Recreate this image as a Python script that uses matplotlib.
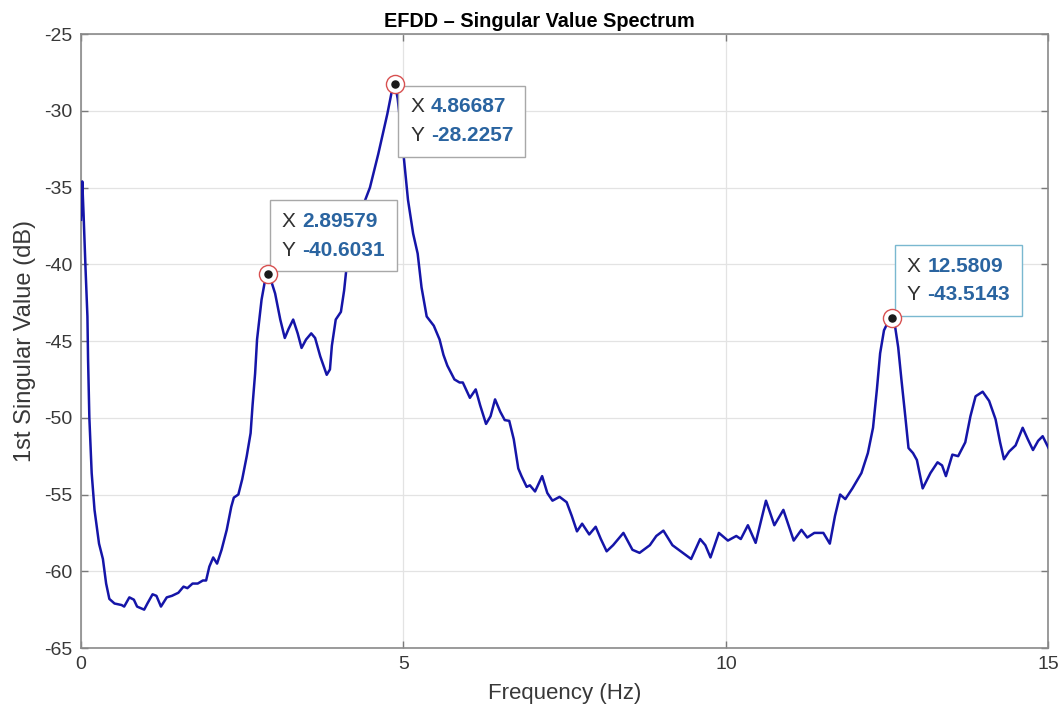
import matplotlib
matplotlib.use("Agg")
import matplotlib.pyplot as plt
from matplotlib.offsetbox import TextArea, HPacker, VPacker, AnnotationBbox

plt.rcParams['font.family'] = ['Liberation Sans', 'DejaVu Sans']
plt.rcParams['axes.unicode_minus'] = False

# first singular value
freq = [0.00, 0.02, 0.04, 0.07, 0.10, 0.11, 0.13, 0.166, 0.21, 0.28, 0.34, 0.39, 0.44,
        0.52, 0.63, 0.67, 0.75, 0.82, 0.87, 0.98, 1.03, 1.11, 1.17, 1.24, 1.33, 1.41,
        1.51, 1.59, 1.65, 1.73, 1.81, 1.89, 1.94, 1.99, 2.05, 2.11, 2.18, 2.26, 2.33,
        2.37, 2.44, 2.50, 2.57, 2.63, 2.66, 2.70, 2.73, 2.80, 2.86, 2.89579, 2.95, 3.01,
        3.09, 3.16, 3.22, 3.29, 3.36, 3.42, 3.49, 3.57, 3.63, 3.71, 3.81, 3.86, 3.89,
        3.95, 4.03, 4.08, 4.13, 4.29, 4.48, 4.61, 4.75, 4.83, 4.86687, 4.91, 4.96, 5.02,
        5.07, 5.15, 5.22, 5.28, 5.36, 5.47, 5.56, 5.62, 5.68, 5.79, 5.87, 5.92, 6.03,
        6.12, 6.19, 6.28, 6.35, 6.42, 6.50, 6.57, 6.64, 6.71, 6.78, 6.83, 6.91, 6.96,
        7.04, 7.15, 7.23, 7.31, 7.42, 7.53, 7.61, 7.69, 7.77, 7.88, 7.98, 8.06, 8.15,
        8.25, 8.41, 8.55, 8.66, 8.82, 8.92, 9.03, 9.17, 9.33, 9.46, 9.60, 9.68, 9.76,
        9.89, 10.03, 10.16, 10.23, 10.34, 10.46, 10.62, 10.75, 10.89, 11.05, 11.17,
        11.26, 11.37, 11.51, 11.61, 11.69, 11.77, 11.85, 11.96, 12.10, 12.20, 12.28,
        12.34, 12.39, 12.45, 12.52, 12.5809, 12.62, 12.67, 12.72, 12.78, 12.83, 12.90,
        12.96, 13.05, 13.17, 13.28, 13.35, 13.41, 13.51, 13.60, 13.71, 13.79, 13.87,
        13.98, 14.08, 14.18, 14.25, 14.31, 14.39, 14.49, 14.60, 14.68, 14.76, 14.84,
        14.91, 15.00]
sv_db = [-37.1, -34.6, -36.7, -40.2, -43.4, -46.2, -50.0, -53.6, -56.0, -58.2, -59.2,
         -60.8, -61.8, -62.1, -62.2, -62.3, -61.7, -61.85, -62.3, -62.5, -62.1, -61.5,
         -61.6, -62.3, -61.7, -61.6, -61.4, -61.0, -61.1, -60.8, -60.8, -60.6, -60.6,
         -59.7, -59.1, -59.5, -58.6, -57.3, -55.8, -55.2, -55.0, -54.0, -52.5, -51.0,
         -49.2, -47.1, -44.9, -42.3, -40.9, -40.6031, -41.1, -41.9, -43.6, -44.8, -44.2,
         -43.6, -44.5, -45.45, -44.9, -44.5, -44.8, -46.0, -47.2, -46.85, -45.3, -43.6,
         -43.1, -41.7, -39.7, -37.1, -35.0, -32.8, -30.2, -28.5, -28.2257, -29.2, -31.1,
         -33.7, -35.8, -38.0, -39.3, -41.5, -43.4, -44.0, -44.9, -45.9, -46.6, -47.5,
         -47.7, -47.7, -48.7, -48.15, -49.2, -50.4, -49.9, -48.8, -49.6, -50.15, -50.2,
         -51.4, -53.3, -53.8, -54.5, -54.4, -54.8, -53.8, -54.9, -55.4, -55.15, -55.5,
         -56.4, -57.4, -56.9, -57.6, -57.1, -57.9, -58.7, -58.3, -57.5, -58.6, -58.8,
         -58.3, -57.7, -57.35, -58.3, -58.8, -59.2, -57.9, -58.3, -59.1, -57.5, -58.0,
         -57.7, -57.9, -57.0, -58.15, -55.4, -57.0, -56.0, -58.0, -57.3, -57.8, -57.5,
         -57.5, -58.2, -56.4, -55.0, -55.3, -54.6, -53.6, -52.3, -50.65, -48.15, -45.8,
         -44.3, -43.7, -43.5143, -44.0, -45.4, -47.5, -49.9, -51.97, -52.3, -52.75,
         -54.6, -53.6, -52.9, -53.1, -53.8, -52.4, -52.5, -51.6, -49.9, -48.6, -48.3,
         -48.9, -50.1, -51.6, -52.7, -52.2, -51.8, -50.65, -51.4, -52.1, -51.5, -51.2,
         -51.96]

# data tips
peak_f = [2.89579, 4.86687, 12.5809]
peak_db = [-40.6031, -28.2257, -43.5143]
peak_x_txt = ["2.89579", "4.86687", "12.5809"]
peak_y_txt = ["-40.6031", "-28.2257", "-43.5143"]

fig = plt.figure(figsize=(10.64, 7.10), dpi=100)
ax = fig.add_axes([0.0761, 0.0873, 0.9093, 0.8647])

ax.plot(freq, sv_db, color='#1515a8', linewidth=1.8, zorder=3)

ax.set_xlim(0, 15)
ax.set_ylim(-65, -25)
ax.set_xticks([0, 5, 10, 15])
ax.set_yticks(range(-65, -24, 5))
ax.grid(True, color='#e3e3e3', linewidth=0.9)
ax.set_axisbelow(True)
ax.tick_params(direction='in', top=True, right=True, length=5, width=1,
               color='#7a7a7a', labelsize=14, labelcolor='#383838', pad=6)
for sp in ax.spines.values():
    sp.set_color('#8a8a8a')
    sp.set_linewidth(1.2)

ax.set_title("EFDD – Singular Value Spectrum", fontsize=14.3, fontweight='bold',
             pad=5, x=0.474)
ax.set_xlabel("Frequency (Hz)", fontsize=16, color='#383838', labelpad=7)
ax.set_ylabel("1st Singular Value (dB)", fontsize=17, color='#383838', labelpad=6)

# tip boxes: pad in points, box alignment and corner offset per tip
tip_pad = 8.5
tip_align = [(0, 0), (0, 1), (0, 0)]
tip_offset = [(tip_pad + 1.5, tip_pad + 1.5), (tip_pad + 2.5, -tip_pad - 1.5),
              (tip_pad + 1.5, tip_pad + 1.5)]
tip_edge = ['#a8a8a8', '#a8a8a8', '#7ab8d0']

for i in range(len(peak_f)):
    lab = dict(fontsize=15, color='#303030')
    val = dict(fontsize=15, color='#2a64a0', fontweight='bold')
    row1 = HPacker(children=[TextArea("X", textprops=lab), TextArea(peak_x_txt[i], textprops=val)],
                   pad=0, sep=5)
    row2 = HPacker(children=[TextArea("Y", textprops=lab), TextArea(peak_y_txt[i], textprops=val)],
                   pad=0, sep=5)
    box = VPacker(children=[row1, row2], pad=0, sep=7, align='left')
    ab = AnnotationBbox(box, (peak_f[i], peak_db[i]), xybox=tip_offset[i],
                        boxcoords="offset points", box_alignment=tip_align[i],
                        frameon=True,
                        bboxprops=dict(boxstyle='square,pad=0.85', facecolor='white',
                                       edgecolor=tip_edge[i], linewidth=1.0),
                        zorder=7)
    ax.add_artist(ab)

# markers at the peaks, drawn over the tip boxes
ax.scatter(peak_f, peak_db, s=170, facecolors='white', edgecolors='#d85050',
           linewidths=1.0, zorder=8)
ax.scatter(peak_f, peak_db, s=26, color='#1a1a1a', zorder=9)

fig.savefig("out.png", dpi=100)
